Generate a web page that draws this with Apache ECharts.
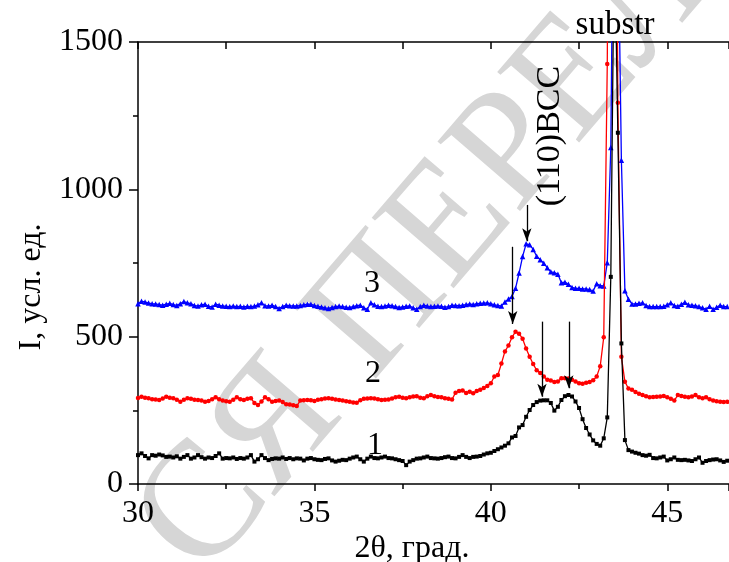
<!DOCTYPE html>
<html>
<head>
<meta charset="utf-8">
<script src="https://cdn.jsdelivr.net/npm/echarts@6/dist/echarts.min.js"></script>
<style>
  html, body { margin: 0; padding: 0; background: #fff; }
  #chart { width: 729px; height: 562px; }
</style>
</head>
<body>
<div id="chart"></div>
<script>
// 2θ, degrees (step 0.1)
var angles = [
  30.0,30.1,30.2,30.3,30.4,30.5,30.6,30.7,30.8,30.9,
  31.0,31.1,31.2,31.3,31.4,31.5,31.6,31.7,31.8,31.9,
  32.0,32.1,32.2,32.3,32.4,32.5,32.6,32.7,32.8,32.9,
  33.0,33.1,33.2,33.3,33.4,33.5,33.6,33.7,33.8,33.9,
  34.0,34.1,34.2,34.3,34.4,34.5,34.6,34.7,34.8,34.9,
  35.0,35.1,35.2,35.3,35.4,35.5,35.6,35.7,35.8,35.9,
  36.0,36.1,36.2,36.3,36.4,36.5,36.6,36.7,36.8,36.9,
  37.0,37.1,37.2,37.3,37.4,37.5,37.6,37.7,37.8,37.9,
  38.0,38.1,38.2,38.3,38.4,38.5,38.6,38.7,38.8,38.9,
  39.0,39.1,39.2,39.3,39.4,39.5,39.6,39.7,39.8,39.9,
  40.0,40.1,40.2,40.3,40.4,40.5,40.6,40.7,40.8,40.9,
  41.0,41.1,41.2,41.3,41.4,41.5,41.6,41.7,41.8,41.9,
  42.0,42.1,42.2,42.3,42.4,42.5,42.6,42.7,42.8,42.9,
  43.0,43.1,43.2,43.3,43.4,43.5,43.6,43.7,43.8,43.9,
  44.0,44.1,44.2,44.3,44.4,44.5,44.6,44.7,44.8,44.9,
  45.0,45.1,45.2,45.3,45.4,45.5,45.6,45.7,45.8,45.9,
  46.0,46.1,46.2,46.3,46.4,46.5,46.6,46.7
];

// curve 1 (black)
var curve1 = [
  98,104,95,87,98,96,100,97,92,93,
  90,94,86,92,98,86,90,98,91,86,
  90,88,95,104,86,88,87,90,85,88,
  86,90,98,76,84,98,88,81,85,87,
  86,90,85,88,84,87,86,80,86,88,
  84,82,81,85,87,80,76,79,82,81,
  86,90,93,84,76,86,93,88,87,90,
  93,88,87,84,81,78,64,76,81,86,
  87,90,93,88,87,86,88,91,93,88,
  87,92,98,92,88,92,93,95,100,104,
  106,112,118,124,130,138,158,163,192,200,
  228,251,268,278,283,284,284,275,249,262,
  285,298,302,297,280,258,220,190,168,148,
  136,130,155,226,703,1900,1192,477,149,115,
  110,106,103,98,96,99,88,87,90,93,
  80,84,90,82,81,82,80,78,84,90,
  72,78,81,83,84,80,75,79
];

// curve 2 (red)
var curve2 = [
  292,296,293,291,288,287,285,290,296,293,
  291,286,279,286,291,289,286,285,283,279,
  282,288,294,288,283,281,279,286,294,288,
  285,289,291,275,268,280,294,288,279,282,
  283,278,271,270,267,265,283,284,285,284,
  282,286,288,290,291,289,287,285,283,281,
  279,277,276,284,289,290,291,290,288,285,
  286,287,290,294,296,293,291,294,297,298,
  293,291,298,302,298,295,294,291,289,287,
  310,316,317,309,313,308,316,320,326,333,
  342,365,370,409,450,470,498,517,510,493,
  460,432,407,386,377,365,354,351,346,348,
  359,359,358,354,348,342,340,344,346,352,
  365,400,498,1425,3500,3200,1294,432,347,324,
  320,312,306,302,298,294,295,296,297,299,
  294,289,283,302,299,296,294,297,302,294,
  291,294,288,283,281,279,278,279
];

// curve 3 (blue)
var curve3 = [
  612,620,618,614,612,611,609,607,610,613,
  609,606,612,619,615,612,606,604,608,610,
  603,601,610,607,604,603,602,604,602,603,
  601,603,602,604,608,615,605,604,607,602,
  596,602,607,605,604,604,606,608,610,610,
  606,603,601,598,596,599,602,604,602,600,
  599,602,605,607,598,593,615,608,603,602,
  604,607,605,602,599,601,603,604,598,593,
  602,607,604,602,603,604,603,600,602,607,
  606,605,607,609,611,609,612,613,614,615,
  612,608,606,604,618,628,636,664,716,772,
  815,812,796,773,761,749,734,720,717,712,
  683,685,678,667,664,664,662,662,660,655,
  680,673,672,751,1142,2400,1950,1099,656,627,
  611,611,613,615,606,602,602,602,602,603,
  608,615,606,603,610,617,608,607,605,602,
  598,593,603,593,600,607,602,602
];

// peak arrows: position, start and end intensity
var arrowX    = [41.02, 40.62, 41.45, 42.21];
var arrowFrom = [947, 805, 551, 551];
var arrowTo   = [824, 543, 296, 325];

var FONT = '"Liberation Serif", "Times New Roman", serif';

function pairs(ys) {
  var out = [];
  for (var i = 0; i < angles.length; i++) out.push([angles[i], ys[i]]);
  return out;
}

var arrows = [];
for (var k = 0; k < arrowX.length; k++) {
  arrows.push([{ coord: [arrowX[k], arrowFrom[k]] }, { coord: [arrowX[k], arrowTo[k]] }]);
}

var chart = echarts.init(document.getElementById('chart'));
var option = {
  animation: false,
  backgroundColor: '#fff',
  grid: { left: 138, right: 0, top: 42, bottom: 78 },
  xAxis: [
    {
      type: 'value', min: 30, max: 46.75, interval: 5,
      axisLine: { lineStyle: { color: '#000', width: 1.5 } },
      axisTick: { inside: false, length: 7, lineStyle: { color: '#000', width: 1.5 } },
      minorTick: { show: true, splitNumber: 2, length: 5, lineStyle: { color: '#000', width: 1.5 } },
      splitLine: { show: false },
      axisLabel: { fontFamily: FONT, fontSize: 32, color: '#000', margin: 14, showMaxLabel: false }
    },
    {
      type: 'value', position: 'top', min: 30, max: 46.75, interval: 2.5,
      axisLine: { lineStyle: { color: '#000', width: 1.5 } },
      axisTick: { inside: true, length: 7, lineStyle: { color: '#000', width: 1.5 } },
      splitLine: { show: false },
      axisLabel: { show: false }
    }
  ],
  yAxis: {
    type: 'value', min: 0, max: 1500, interval: 500,
    axisLine: { show: true, lineStyle: { color: '#000', width: 1.5 } },
    axisTick: { show: true, inside: false, length: 9, lineStyle: { color: '#000', width: 1.5 } },
    minorTick: { show: true, splitNumber: 2, length: 5, lineStyle: { color: '#000', width: 1.5 } },
    splitLine: { show: false },
    axisLabel: {
      fontFamily: FONT, fontSize: 32, color: '#000', margin: 15,
      formatter: function (v) { return String(v); }
    }
  },
  series: [
    {
      name: '1', type: 'line', data: pairs(curve1), clip: true,
      symbol: 'rect', symbolSize: 4, showAllSymbol: true,
      itemStyle: { color: '#000' }, lineStyle: { color: '#000', width: 1.3 },
      markLine: {
        silent: true, symbol: ['none', 'arrow'], symbolSize: [7, 13],
        label: { show: false },
        lineStyle: { color: '#000', width: 1.3, type: 'solid' },
        data: arrows
      },
      z: 4
    },
    {
      name: '2', type: 'line', data: pairs(curve2), clip: true,
      symbol: 'circle', symbolSize: 4.5, showAllSymbol: true,
      itemStyle: { color: '#ff0000' }, lineStyle: { color: '#ff0000', width: 1.3 },
      z: 3
    },
    {
      name: '3', type: 'line', data: pairs(curve3), clip: true,
      symbol: 'triangle', symbolSize: 5.5, showAllSymbol: true,
      itemStyle: { color: '#0000ff' }, lineStyle: { color: '#0000ff', width: 1.3 },
      z: 2
    }
  ],
  graphic: [
    {
      type: 'text', z: -10, x: 425, y: 255, rotation: 0.86,
      style: {
        text: 'СЯ ПЕРЕЛ', fill: '#d6d6d6', align: 'center', verticalAlign: 'middle',
        font: '165px ' + FONT
      }
    },
    { type: 'text', x: 372, y: 284, style: { text: '3', fill: '#000', font: '32px ' + FONT, align: 'center', verticalAlign: 'middle' } },
    { type: 'text', x: 373, y: 374, style: { text: '2', fill: '#000', font: '32px ' + FONT, align: 'center', verticalAlign: 'middle' } },
    { type: 'text', x: 375, y: 446, style: { text: '1', fill: '#000', font: '32px ' + FONT, align: 'center', verticalAlign: 'middle' } },
    { type: 'text', x: 615, y: 25, style: { text: 'substr', fill: '#000', font: '33px ' + FONT, align: 'center', verticalAlign: 'middle' } },
    { type: 'text', x: 550, y: 136, rotation: Math.PI / 2, style: { text: '(110)BCC', fill: '#000', font: '34px ' + FONT, align: 'center', verticalAlign: 'middle' } },
    { type: 'text', x: 32, y: 287, rotation: Math.PI / 2, style: { text: 'I, усл. ед.', fill: '#000', font: '32px ' + FONT, align: 'center', verticalAlign: 'middle' } },
    { type: 'text', x: 412, y: 549, style: { text: '2θ, град.', fill: '#000', font: '32px ' + FONT, align: 'center', verticalAlign: 'middle' } }
  ]
};
chart.setOption(option);
</script>
</body>
</html>
